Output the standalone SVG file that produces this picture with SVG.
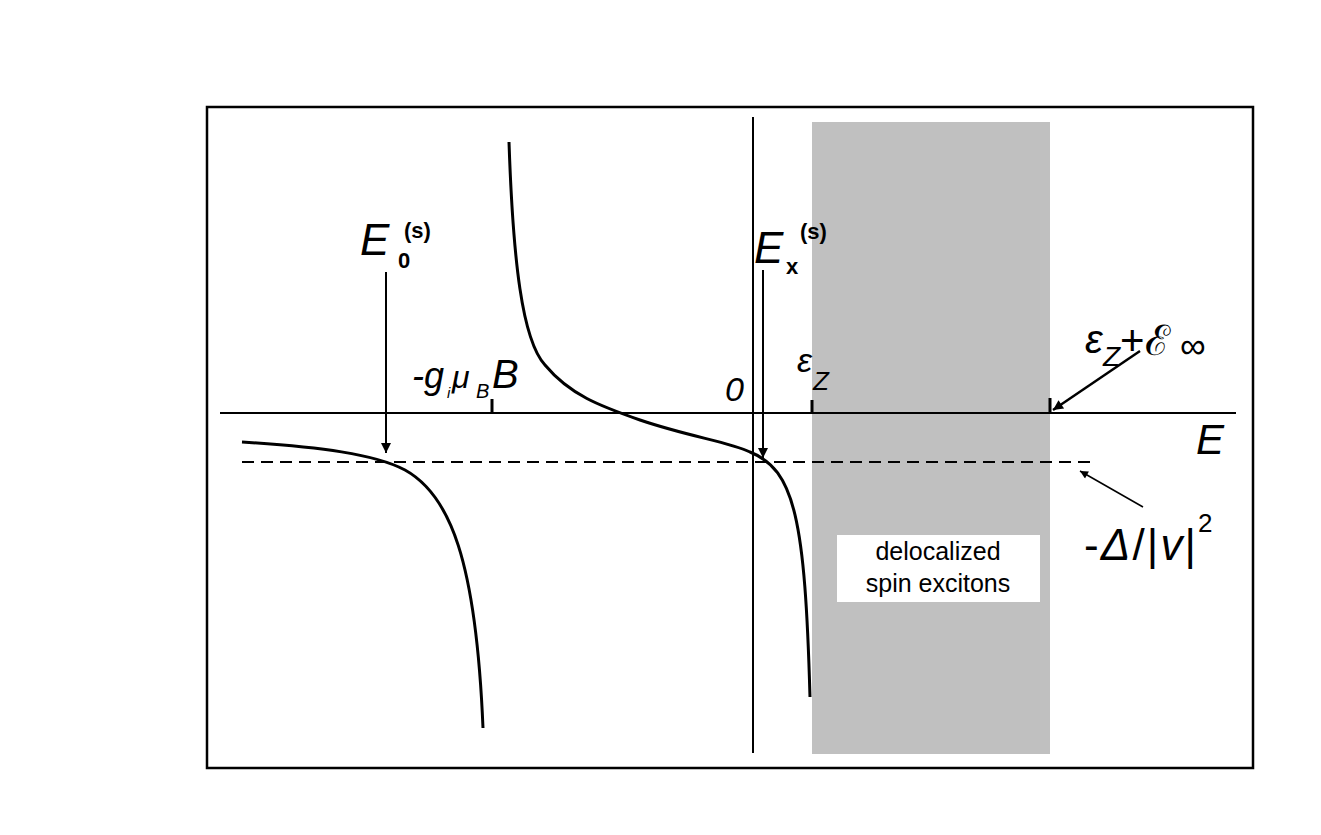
<svg xmlns="http://www.w3.org/2000/svg" width="1321" height="835" viewBox="0 0 1321 835">
<style>
.l{stroke:#000;fill:none}
.t{font-family:"Liberation Sans",Arial,sans-serif;fill:#000}
.i{font-style:italic}
.b{font-weight:bold}
</style>
<defs>
<marker id="a" viewBox="0 0 10 10" refX="10" refY="5" markerWidth="12" markerHeight="8" orient="auto" markerUnits="userSpaceOnUse"><path d="M0,0L10,5L0,10z"/></marker>
<marker id="ab" viewBox="0 0 10 10" refX="10" refY="5" markerWidth="16" markerHeight="10" orient="auto" markerUnits="userSpaceOnUse"><path d="M0,0L10,5L0,10z"/></marker>
</defs>
<rect width="1321" height="835" fill="#fff"/>
<rect x="207" y="107" width="1046" height="661" class="l" stroke-width="2.5"/>
<rect x="812" y="122" width="238" height="632" fill="#c0c0c0"/>
<g id="connectors">
<line x1="220" y1="413" x2="1236" y2="413" class="l" stroke-width="1.8"/>
<line x1="753" y1="117" x2="753" y2="753" class="l" stroke-width="2"/>
<line x1="242" y1="462" x2="1090" y2="462" class="l" stroke-width="2" stroke-dasharray="12,7"/>
<line x1="492" y1="399" x2="492" y2="413" class="l" stroke-width="3"/>
<line x1="812" y1="400" x2="812" y2="413" class="l" stroke-width="3"/>
<line x1="1050" y1="398" x2="1050" y2="413" class="l" stroke-width="3"/>
<path d="M242,442 C320,447 375,454 405,470 C450,495 476,560 483,728" class="l" stroke-width="3"/>
<path d="M509,142 C513,260 522,340 545,365 C570,395 600,406 640,420 C690,437 730,442 750,452 C795,470 805,520 810,697" class="l" stroke-width="3"/>
<line x1="386" y1="272" x2="386" y2="453" class="l" stroke-width="2" marker-end="url(#ab)"/>
<line x1="763" y1="270" x2="763" y2="458" class="l" stroke-width="2" marker-end="url(#ab)"/>
<line x1="1140" y1="351" x2="1053" y2="410" class="l" stroke-width="2.5" marker-end="url(#ab)"/>
<line x1="1143" y1="507" x2="1080" y2="471" class="l" stroke-width="1.5" marker-end="url(#a)"/>
</g>
<g id="label-e0"><text x="360" y="255" class="t i" font-size="44">E</text><text x="398" y="268" class="t b" font-size="22">0</text><text x="404" y="238" class="t b" font-size="22">(s)</text></g>
<g id="label-ex"><text x="754" y="263" class="t i" font-size="44">E</text><text x="786" y="274" class="t b" font-size="22">x</text><text x="800" y="239" class="t b" font-size="22">(s)</text></g>
<g id="label-g"><text x="412" y="388" class="t i" font-size="36">-g</text><text x="447" y="398" class="t i" font-size="15">i</text><text x="452" y="388" class="t i" font-size="32">μ</text><text x="476" y="398" class="t i" font-size="20">B</text><text x="492" y="388" class="t i" font-size="40">B</text></g>
<g id="label-0"><text x="725" y="401" class="t i" font-size="34">0</text></g>
<g id="label-ez"><text x="797" y="372" class="t i" font-size="34">ε</text><text x="813" y="390" class="t i" font-size="26">Z</text></g>
<g id="label-einf"><text x="1085" y="353" class="t i" font-size="40">ε</text><text x="1103" y="366" class="t i" font-size="28">Z</text><text x="1120" y="355" class="t" font-size="42">+ℰ</text><text x="1180" y="358" class="t" font-size="36">∞</text></g>
<g id="label-E"><text x="1196" y="454" class="t i" font-size="42">E</text></g>
<g id="label-delta"><text x="1084" y="560" class="t" font-size="44" textLength="112" lengthAdjust="spacing">-<tspan class="i">Δ</tspan>/|<tspan class="i">v</tspan>|</text><text x="1198" y="532" class="t" font-size="26">2</text></g>
<g id="box"><rect x="837" y="535" width="203" height="67" fill="#fff"/><text x="938" y="560" class="t" font-size="25" text-anchor="middle">delocalized</text><text x="938" y="592" class="t" font-size="25" text-anchor="middle">spin excitons</text></g>
</svg>
